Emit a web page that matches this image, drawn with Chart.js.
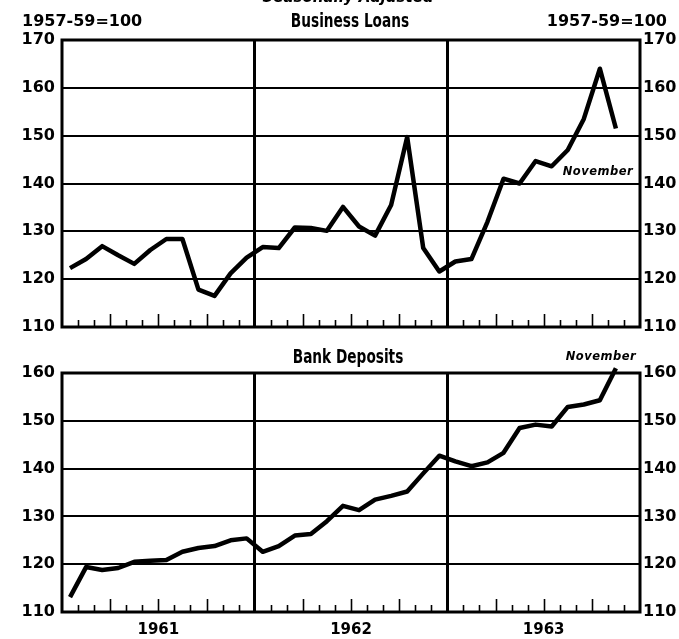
<!DOCTYPE html>
<html>
<head>
<meta charset="utf-8">
<script src="https://cdn.jsdelivr.net/npm/chart.js@4.4.0/dist/chart.umd.min.js"></script>
<style>
  html, body { margin: 0; padding: 0; background: #fff; }
  #wrap { position: relative; width: 679px; height: 639px; overflow: hidden; color: #000; font-family: 'DejaVu Sans', sans-serif; }
  canvas { position: absolute; left: 0; }
  .t { position: absolute; white-space: nowrap; line-height: 1; transform: translate(-50%, -50%); }
  .head { font-family: 'DejaVu Sans Condensed', 'DejaVu Sans', sans-serif; font-weight: bold; font-size: 20px; transform: translate(-50%, -50%) scaleX(0.76); }
  .note { font-weight: bold; font-style: italic; font-size: 11.5px; letter-spacing: 0.5px; }
  .base { position: absolute; top: 13px; font-weight: bold; font-size: 16px; line-height: 1; }
</style>
</head>
<body>
<div id="wrap">
  <canvas id="loans" width="679" height="345" style="top:0"></canvas>
  <canvas id="deposits" width="679" height="294" style="top:345px"></canvas>

  <div class="t" style="left:348px; top:-3.5px; font-weight:bold; font-style:italic; font-size:15px;">Seasonally Adjusted</div>
  <div class="base" style="left:22px;">1957-59=100</div>
  <div class="base" style="right:12px;">1957-59=100</div>
  <div class="t head" style="left:350px; top:20px;">Business Loans</div>
  <div class="t head" style="left:348px; top:356px;">Bank Deposits</div>
  <div class="t note" style="left:598px; top:172px;">November</div>
  <div class="t note" style="left:601px; top:357px;">November</div>
</div>

<script>
// mensal, jan 1961 - nov 1963 (1957-59=100)
const anos = ['1961', '1962', '1963'];
const meses = ['Jan', 'Feb', 'Mar', 'Apr', 'May', 'Jun', 'Jul', 'Aug', 'Sep', 'Oct', 'Nov', 'Dec'];

const emprestimos = [
    122.3, 124.2, 126.9, 125.0, 123.2, 126.1, 128.4, 128.4, 117.8, 116.5, 121.2, 124.5,
    126.7, 126.5, 130.8, 130.7, 130.1, 135.1, 131.0, 129.1, 135.5, 149.7, 126.5, 121.6,
    123.7, 124.2, 132.0, 141.0, 140.0, 144.7, 143.6, 147.0, 153.5, 164.0, 151.5
];

const depositos = [
    113.1, 119.4, 118.8, 119.2, 120.5, 120.7, 120.9, 122.6, 123.4, 123.8, 125.0, 125.4,
    122.6, 123.8, 126.0, 126.3, 129.0, 132.2, 131.3, 133.5, 134.3, 135.2, 139.0, 142.7,
    141.5, 140.5, 141.3, 143.3, 148.5, 149.2, 148.8, 152.9, 153.4, 154.3, 161.0
];

const ticksEmprestimos = [110, 170];
const ticksDepositos = [110, 160];

const fonteEixo = { family: "'DejaVu Sans', sans-serif", size: 16, weight: 'bold' };
const fonteAno = { family: "'DejaVu Sans', sans-serif", size: 15, weight: 'bold' };

// moldura + marcas mensais para dentro
const moldura = {
    id: 'moldura',
    beforeDatasetsDraw(chart) {
        const { ctx, chartArea: a, scales: { x } } = chart;
        ctx.save();
        ctx.strokeStyle = '#000';
        ctx.lineWidth = 1.6;
        for (let m = 1; m < 36; m++) {
            if (m % 12 === 0) continue;
            const len = m % 3 === 0 ? 13 : 7;
            const px = Math.round(x.getPixelForValue(m)) + 0.5;
            ctx.beginPath();
            ctx.moveTo(px, a.bottom);
            ctx.lineTo(px, a.bottom - len);
            ctx.stroke();
        }
        ctx.lineWidth = 3;
        ctx.strokeRect(a.left, a.top, a.right - a.left, a.bottom - a.top);
        ctx.restore();
    }
};

function criarGrafico(id, valores, limites, mostrarAnos, padding) {
    const ctx = document.getElementById(id).getContext('2d');
    return new Chart(ctx, {
        type: 'line',
        data: {
            datasets: [{
                label: id,
                data: valores.map((v, i) => ({ x: i + 0.5, y: v, mes: meses[i % 12] })),
                borderColor: '#000',
                borderWidth: 4.5,
                borderJoinStyle: 'round',
                pointRadius: 0,
                tension: 0,
                clip: false
            }]
        },
        options: {
            responsive: false,
            animation: false,
            layout: { padding },
            plugins: { legend: { display: false }, tooltip: { enabled: false } },
            scales: {
                x: {
                    type: 'linear',
                    min: 0,
                    max: 36,
                    afterBuildTicks: (s) => { s.ticks = Array.from({ length: 37 }, (_, i) => ({ value: i })); },
                    afterFit: (s) => { s.height = mostrarAnos ? 27 : 0; },
                    grid: {
                        color: (c) => (c.tick && c.tick.value % 12 === 0 && c.tick.value > 0 && c.tick.value < 36) ? '#000' : 'rgba(0,0,0,0)',
                        lineWidth: 3,
                        drawTicks: false
                    },
                    border: { display: false },
                    ticks: {
                        display: mostrarAnos,
                        autoSkip: false,
                        maxRotation: 0,
                        padding: 9,
                        color: '#000',
                        font: fonteAno,
                        callback: (v) => (v % 12 === 6) ? anos[(v - 6) / 12] : ''
                    }
                },
                y: {
                    position: 'left',
                    min: limites[0],
                    max: limites[1],
                    afterFit: (s) => { s.width = 62; },
                    ticks: { stepSize: 10, padding: 7, color: '#000', font: fonteEixo },
                    grid: { color: '#000', lineWidth: 2, drawTicks: false },
                    border: { display: false }
                },
                y2: {
                    position: 'right',
                    min: limites[0],
                    max: limites[1],
                    afterFit: (s) => { s.width = 39; },
                    ticks: { stepSize: 10, padding: 3, color: '#000', font: fonteEixo },
                    grid: { drawOnChartArea: false, drawTicks: false },
                    border: { display: false }
                }
            }
        },
        plugins: [moldura]
    });
}

criarGrafico('loans', emprestimos, ticksEmprestimos, false, { top: 40, bottom: 18, left: 0, right: 0 });
criarGrafico('deposits', depositos, ticksDepositos, true, { top: 28, bottom: 0, left: 0, right: 0 });
</script>
</body>
</html>
